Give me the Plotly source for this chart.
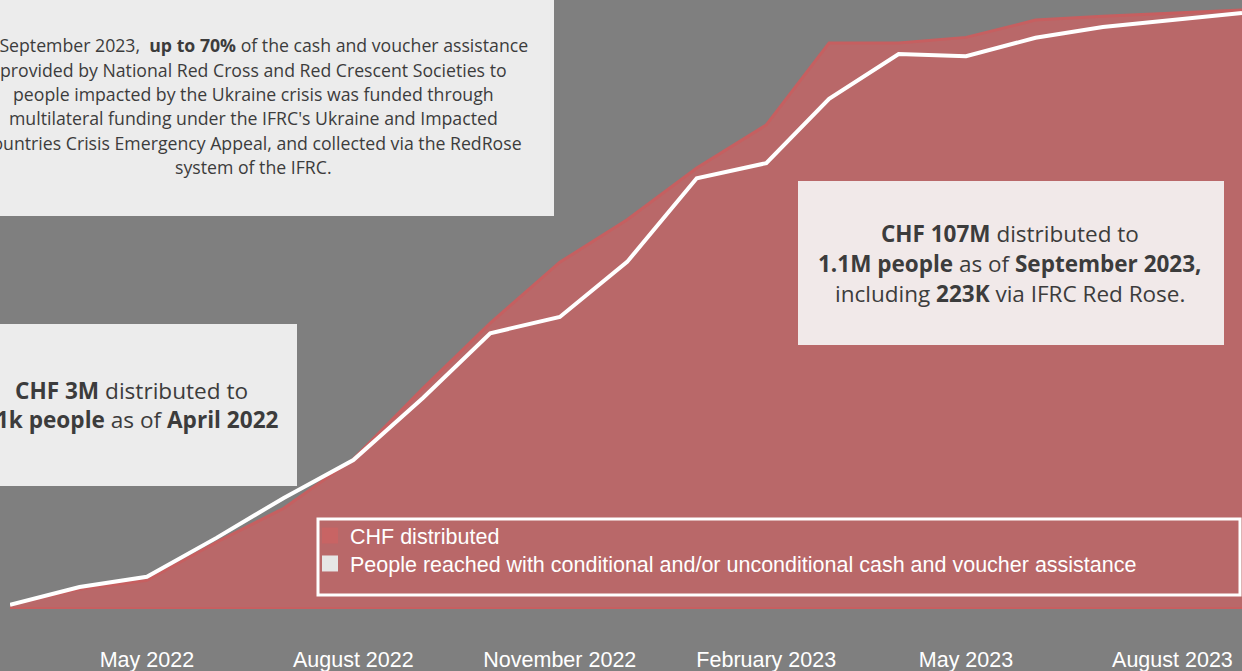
import plotly.graph_objects as go

# monthly cumulative figures, March 2022 -> September 2023
months = ["2022-03-01", "2022-04-01", "2022-05-01", "2022-06-01", "2022-07-01",
          "2022-08-01", "2022-09-01", "2022-10-01", "2022-11-01", "2022-12-01",
          "2023-01-01", "2023-02-01", "2023-03-01", "2023-04-01", "2023-05-01",
          "2023-06-01", "2023-07-01", "2023-08-01", "2023-09-01"]

# CHF distributed (millions)
chf_distributed = [0.4, 3.2, 4.8, 11.6, 17.7, 26.5, 39.2, 50.9, 61.8, 69.4,
                   78.7, 86.4, 101.1, 101.1, 102.1, 105.2, 105.9, 106.4, 107.0]

# people reached (millions)
people_reached = [0.004, 0.037, 0.056, 0.128, 0.202, 0.272, 0.387, 0.507, 0.537, 0.639,
                  0.794, 0.822, 0.941, 1.024, 1.020, 1.054, 1.074, 1.087, 1.100]

legend_names = ["CHF distributed",
                "People reached with conditional and/or unconditional cash and voucher assistance"]

note_top = ["In September 2023,  <b>up to 70%</b> of the cash and voucher assistance",
            "provided by National Red Cross and Red Crescent Societies to",
            "people impacted by the Ukraine crisis was funded through",
            "multilateral funding under the IFRC's Ukraine and Impacted",
            "countries Crisis Emergency Appeal, and collected via the RedRose",
            "system of the IFRC."]
note_left = ["<b>CHF 3M</b> distributed to",
             "<b>41k people</b> as of <b>April 2022</b>"]
note_right = ["<b>CHF 107M</b> distributed to",
              "<b>1.1M people</b> as of <b>September 2023,</b>",
              "including <b>223K</b> via IFRC Red Rose."]

W, H = 1242, 671
ML, MR, MT, MB = 10, 0, 0, 64
PW, PH = W - ML - MR, H - MT - MB

BG = "#7f7f7f"
AREA_FILL = "#b96869"
AREA_LINE = "#c65f60"
TXT = "#3c3c3c"


def px_x(x):
    return (x - ML) / PW


def px_y(y):
    return (MT + PH - y) / PH


fig = go.Figure()

fig.add_trace(go.Scatter(x=months, y=chf_distributed, mode="lines", fill="tozeroy",
                         fillcolor=AREA_FILL, line=dict(color=AREA_LINE, width=3),
                         showlegend=False, hoverinfo="skip"))
fig.add_trace(go.Scatter(x=months, y=people_reached, mode="lines", yaxis="y2",
                         line=dict(color="white", width=4),
                         showlegend=False, hoverinfo="skip"))

# legend swatches, one legend per row so the row spacing can match
for name, col, leg in zip(legend_names, ["#c86464", "#e6e6e6"], ["legend", "legend2"]):
    fig.add_trace(go.Scatter(x=[None], y=[None], mode="markers", name=name, legend=leg,
                             marker=dict(symbol="square", size=18, color=col)))

shapes = []
annotations = []


def box(x0, y0, x1, y1, fill):
    shapes.append(dict(type="rect", xref="paper", yref="paper",
                       x0=px_x(x0), x1=px_x(x1), y0=px_y(y1), y1=px_y(y0),
                       fillcolor=fill, line=dict(width=0), layer="above"))


def lines(texts, cx, ys, size):
    for t, y in zip(texts, ys):
        annotations.append(dict(text=t, xref="paper", yref="paper", x=px_x(cx), y=px_y(y),
                                xanchor="center", yanchor="middle", showarrow=False,
                                font=dict(family="Open Sans", size=size, color=TXT)))


box(-80, -20, 554, 216, "#ececec")
lines(note_top, 253, [45, 70, 94, 118, 143, 167], 17.7)

box(-80, 324, 297, 486, "#ececec")
lines(note_left, 131, [390, 419], 22.6)

box(798, 181, 1224, 345, "#f1e9e9")
lines(note_right, 1010, [233, 263, 293], 22.5)

# legend frame
shapes.append(dict(type="rect", xref="paper", yref="paper",
                   x0=px_x(318), x1=px_x(1240), y0=px_y(595), y1=px_y(519),
                   line=dict(color="white", width=3), fillcolor="rgba(0,0,0,0)"))

legend_style = dict(xanchor="left", yanchor="top", bgcolor="rgba(0,0,0,0)", borderwidth=0,
                    font=dict(family="Liberation Sans, Arial", size=21.5, color="white"))

fig.update_layout(
    width=W, height=H,
    margin=dict(l=ML, r=MR, t=MT, b=MB),
    paper_bgcolor=BG, plot_bgcolor=BG,
    font=dict(family="Liberation Sans, Arial", color="white"),
    showlegend=True,
    legend=dict(x=px_x(310), y=px_y(515), **legend_style),
    legend2=dict(x=px_x(310), y=px_y(543), **legend_style),
    xaxis=dict(type="date", range=["2022-03-01", "2023-09-01"],
               tick0="2022-05-01", dtick="M3", tickformat="%B %Y",
               showgrid=False, zeroline=False, automargin=False,
               showline=True, linecolor=AREA_LINE, linewidth=2,
               ticks="outside", ticklen=32, tickcolor="rgba(0,0,0,0)",
               tickfont=dict(family="Liberation Sans, Arial", size=21.5, color="white")),
    yaxis=dict(range=[0, 108.8], visible=False, fixedrange=True),
    yaxis2=dict(range=[0, 1.124], visible=False, overlaying="y", side="right"),
    shapes=shapes,
    annotations=annotations,
)

# page body has a default 8px margin; drop it so the figure fills the window
fig.write_html("out.html", config={"displayModeBar": False},
               post_script="document.body.style.margin = '0';")
